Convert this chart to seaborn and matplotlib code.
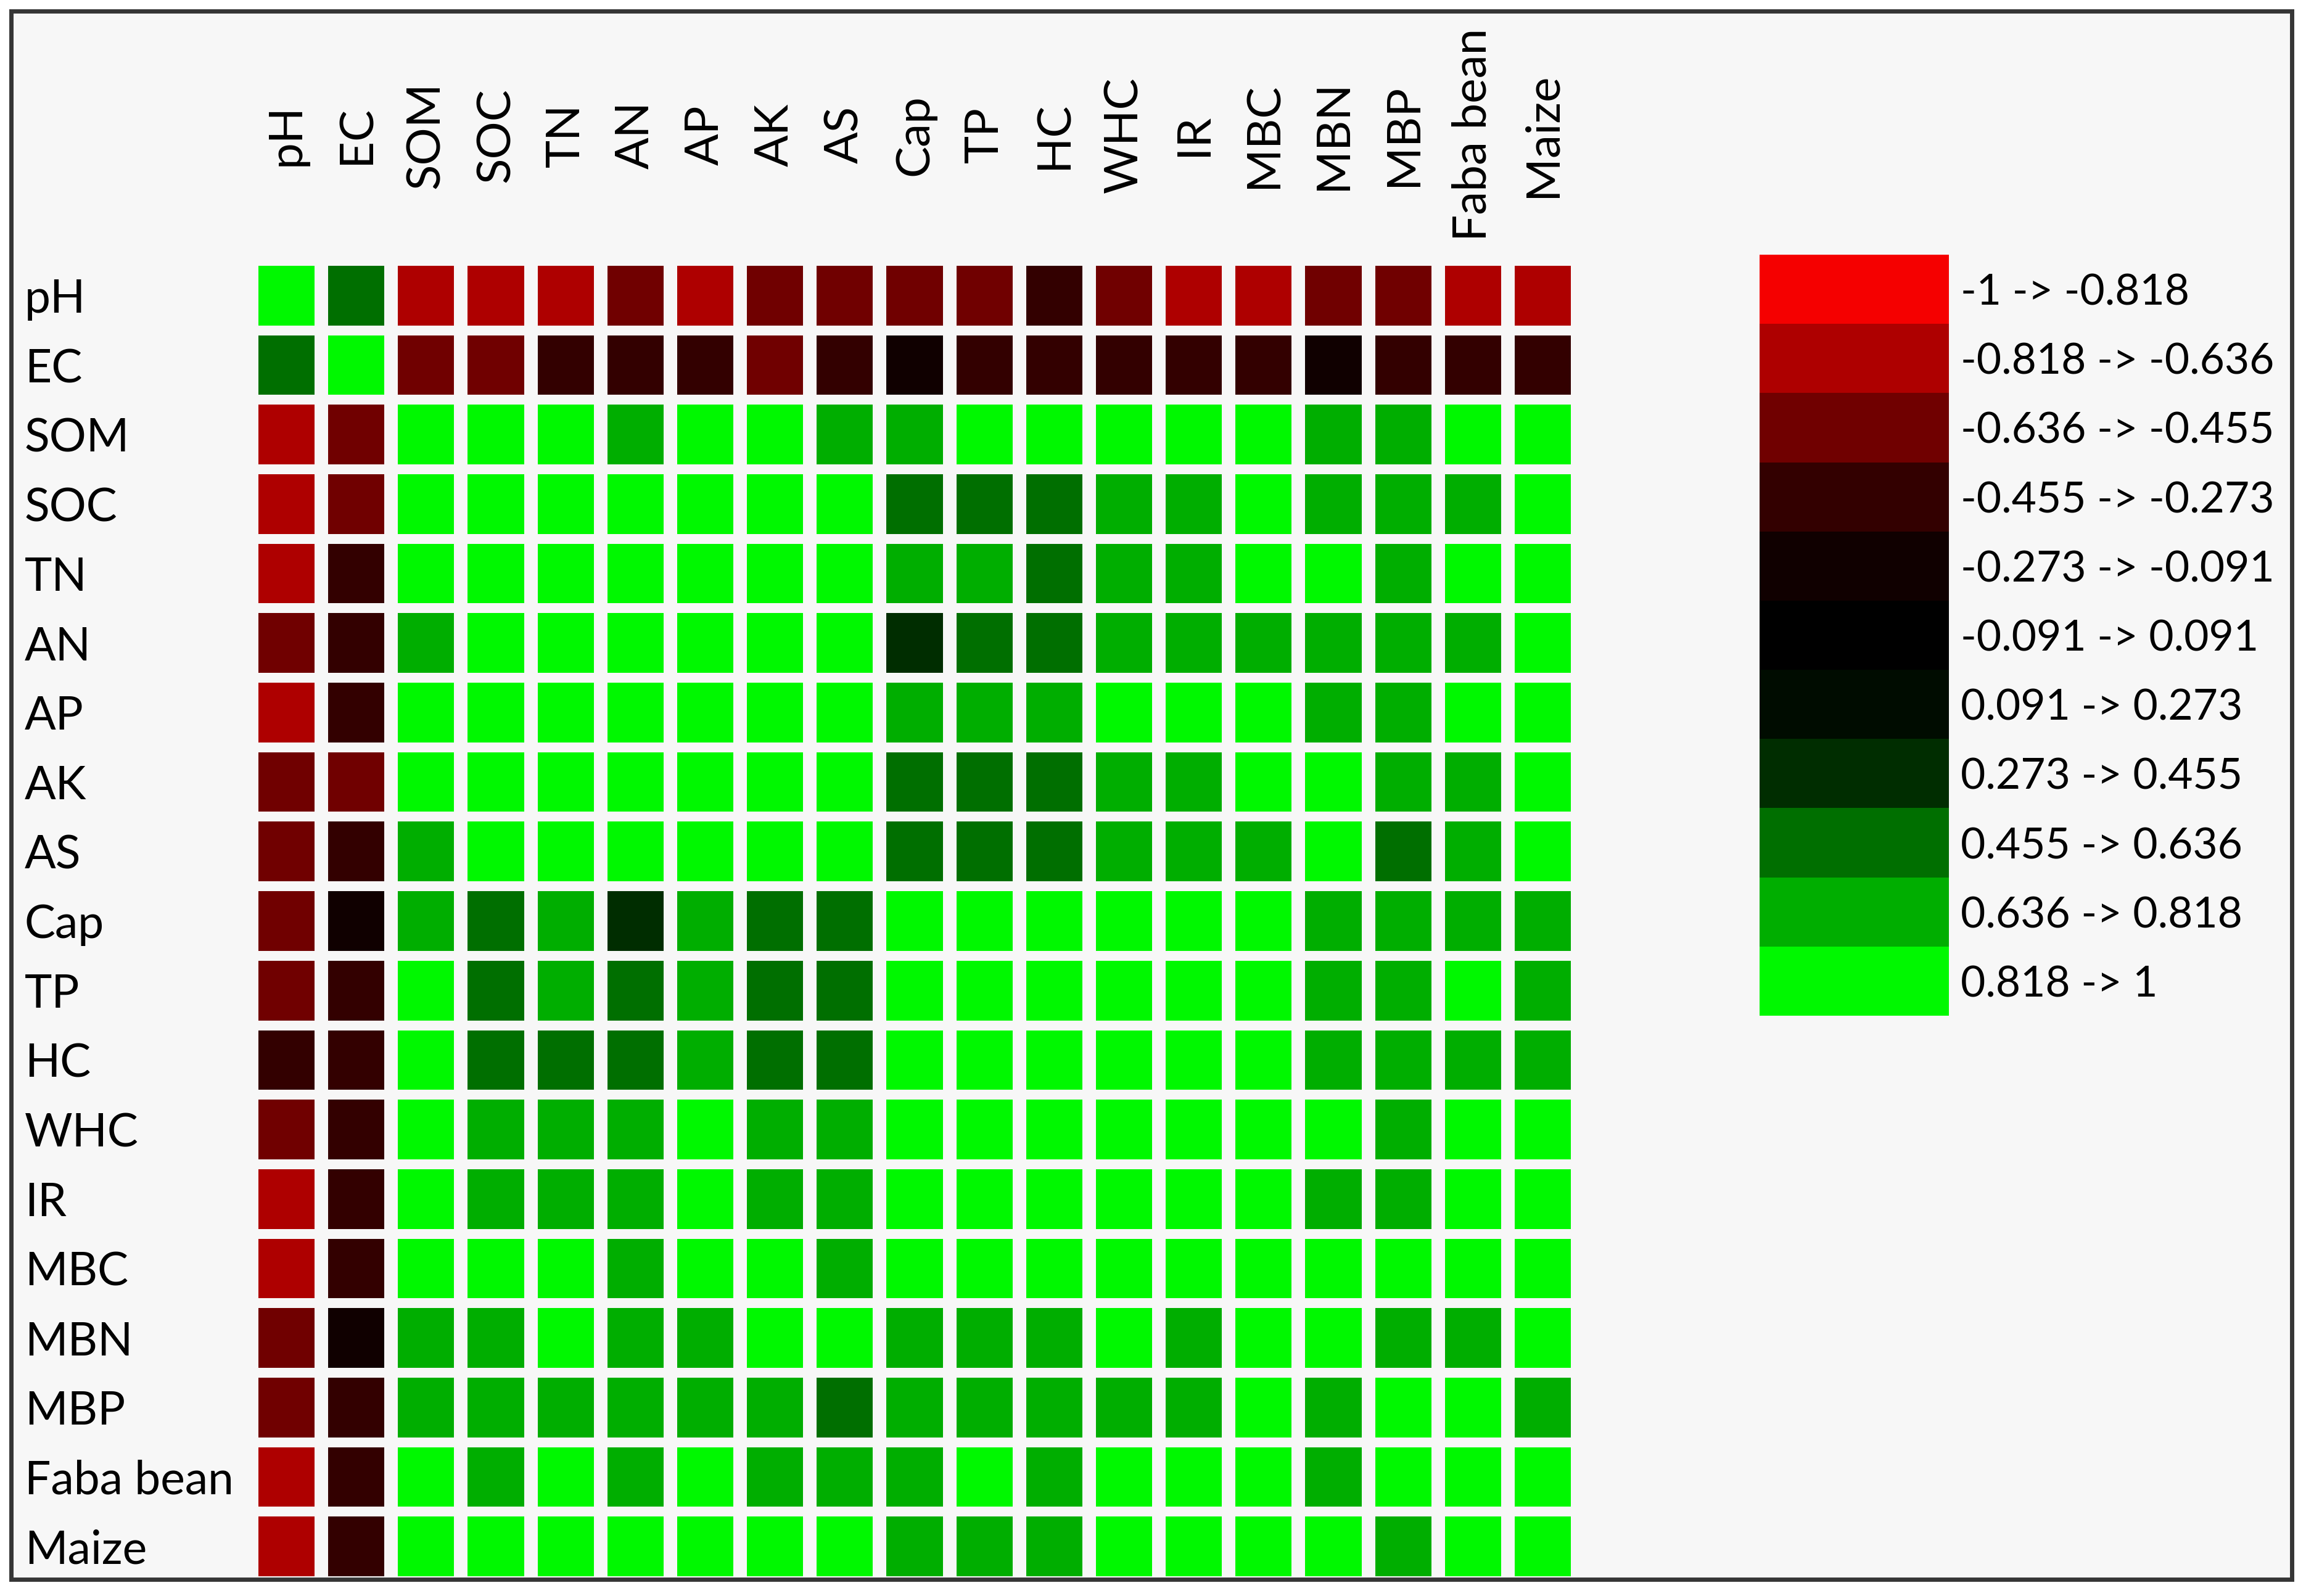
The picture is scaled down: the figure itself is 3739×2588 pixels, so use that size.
import numpy as np
import pandas as pd
import seaborn as sns
import matplotlib.pyplot as plt
from matplotlib.colors import ListedColormap
from matplotlib.patches import Rectangle

# variables (rows and columns of the correlation matrix)
variables = ['pH', 'EC', 'SOM', 'SOC', 'TN', 'AN', 'AP', 'AK', 'AS', 'Cap', 'TP', 'HC',
             'WHC', 'IR', 'MBC', 'MBN', 'MBP', 'Faba bean', 'Maize']

# correlation coefficients (class midpoints)
corr = [
    [1.00, 0.55, -0.73, -0.73, -0.73, -0.55, -0.73, -0.55, -0.55, -0.55, -0.55, -0.36, -0.55, -0.73, -0.73, -0.55, -0.55, -0.73, -0.73],
    [0.55, 1.00, -0.55, -0.55, -0.36, -0.36, -0.36, -0.55, -0.36, -0.18, -0.36, -0.36, -0.36, -0.36, -0.36, -0.18, -0.36, -0.36, -0.36],
    [-0.73, -0.55, 1.00, 0.91, 0.91, 0.73, 0.91, 0.91, 0.73, 0.73, 0.91, 0.91, 0.91, 0.91, 0.91, 0.73, 0.73, 0.91, 0.91],
    [-0.73, -0.55, 0.91, 1.00, 0.91, 0.91, 0.91, 0.91, 0.91, 0.55, 0.55, 0.55, 0.73, 0.73, 0.91, 0.73, 0.73, 0.73, 0.91],
    [-0.73, -0.36, 0.91, 0.91, 1.00, 0.91, 0.91, 0.91, 0.91, 0.73, 0.73, 0.55, 0.73, 0.73, 0.91, 0.91, 0.73, 0.91, 0.91],
    [-0.55, -0.36, 0.73, 0.91, 0.91, 1.00, 0.91, 0.91, 0.91, 0.36, 0.55, 0.55, 0.73, 0.73, 0.73, 0.73, 0.73, 0.73, 0.91],
    [-0.73, -0.36, 0.91, 0.91, 0.91, 0.91, 1.00, 0.91, 0.91, 0.73, 0.73, 0.73, 0.91, 0.91, 0.91, 0.73, 0.73, 0.91, 0.91],
    [-0.55, -0.55, 0.91, 0.91, 0.91, 0.91, 0.91, 1.00, 0.91, 0.55, 0.55, 0.55, 0.73, 0.73, 0.91, 0.91, 0.73, 0.73, 0.91],
    [-0.55, -0.36, 0.73, 0.91, 0.91, 0.91, 0.91, 0.91, 1.00, 0.55, 0.55, 0.55, 0.73, 0.73, 0.73, 0.91, 0.55, 0.73, 0.91],
    [-0.55, -0.18, 0.73, 0.55, 0.73, 0.36, 0.73, 0.55, 0.55, 1.00, 0.91, 0.91, 0.91, 0.91, 0.91, 0.73, 0.73, 0.73, 0.73],
    [-0.55, -0.36, 0.91, 0.55, 0.73, 0.55, 0.73, 0.55, 0.55, 0.91, 1.00, 0.91, 0.91, 0.91, 0.91, 0.73, 0.73, 0.91, 0.73],
    [-0.36, -0.36, 0.91, 0.55, 0.55, 0.55, 0.73, 0.55, 0.55, 0.91, 0.91, 1.00, 0.91, 0.91, 0.91, 0.73, 0.73, 0.73, 0.73],
    [-0.55, -0.36, 0.91, 0.73, 0.73, 0.73, 0.91, 0.73, 0.73, 0.91, 0.91, 0.91, 1.00, 0.91, 0.91, 0.91, 0.73, 0.91, 0.91],
    [-0.73, -0.36, 0.91, 0.73, 0.73, 0.73, 0.91, 0.73, 0.73, 0.91, 0.91, 0.91, 0.91, 1.00, 0.91, 0.73, 0.73, 0.91, 0.91],
    [-0.73, -0.36, 0.91, 0.91, 0.91, 0.73, 0.91, 0.91, 0.73, 0.91, 0.91, 0.91, 0.91, 0.91, 1.00, 0.91, 0.91, 0.91, 0.91],
    [-0.55, -0.18, 0.73, 0.73, 0.91, 0.73, 0.73, 0.91, 0.91, 0.73, 0.73, 0.73, 0.91, 0.73, 0.91, 1.00, 0.73, 0.73, 0.91],
    [-0.55, -0.36, 0.73, 0.73, 0.73, 0.73, 0.73, 0.73, 0.55, 0.73, 0.73, 0.73, 0.73, 0.73, 0.91, 0.73, 1.00, 0.91, 0.73],
    [-0.73, -0.36, 0.91, 0.73, 0.91, 0.73, 0.91, 0.73, 0.73, 0.73, 0.91, 0.73, 0.91, 0.91, 0.91, 0.73, 0.91, 1.00, 0.91],
    [-0.73, -0.36, 0.91, 0.91, 0.91, 0.91, 0.91, 0.91, 0.91, 0.73, 0.73, 0.73, 0.91, 0.91, 0.91, 0.91, 0.73, 0.91, 1.00],
]

# class edges of the legend and one colour per class
edges = [-1, -0.818, -0.636, -0.455, -0.273, -0.091, 0.091, 0.273, 0.455, 0.636, 0.818, 1]
class_colors = ['#F50000', '#AE0000', '#700000', '#330000', '#100000', '#000000',
                '#000C00', '#002D00', '#006F00', '#00AE00', '#00F800']

bg = '#F7F7F7'
df = pd.DataFrame(corr, index=variables, columns=variables)
cmap = ListedColormap(class_colors)

sns.set_theme(style='white')
plt.rcParams['font.family'] = ['Lato', 'DejaVu Sans']

W, H = 3739, 2588
fig = plt.figure(figsize=(W / 100, H / 100), dpi=100)
fig.patch.set_facecolor('white')

# grey panel with dark frame
x0, x1, y0, y1 = 17.5, 3716, 17.5, 2561
fig.patches.append(Rectangle((x0 / W, 1 - y1 / H), (x1 - x0) / W, (y1 - y0) / H,
                             transform=fig.transFigure, facecolor=bg, edgecolor='none', zorder=-1))
fig.patches.append(Rectangle((x0 / W, 1 - y1 / H), (x1 - x0) / W, (y1 - y0) / H,
                             transform=fig.transFigure, facecolor='none', edgecolor='#363636',
                             lw=5, zorder=10))

# main heatmap
ax = fig.add_axes([408 / W, 1 - 2564 / H, 2150 / W, 2141 / H])
ax.set_facecolor(bg)
sns.heatmap(df, cmap=cmap, vmin=-1, vmax=1, cbar=False, ax=ax,
            xticklabels=variables, yticklabels=variables)
n = len(variables)
for i in range(n + 1):
    ax.axvline(i, color=bg, lw=22 * 0.72)
    ax.axhline(i, color=bg, lw=16 * 0.72)

ax.xaxis.tick_top()
ax.set_xticks(np.arange(n) + 0.5, variables, rotation=90, va='center', ha='center', fontsize=55)
ax.set_yticks(np.arange(n) + 0.5, variables, rotation=0, ha='left', va='center_baseline', fontsize=54)
ax.tick_params(axis='x', length=0, pad=147, colors='black')
ax.tick_params(axis='y', length=0, pad=265, colors='black')

# legend as a stacked one-column heatmap
mids = [(edges[i] + edges[i + 1]) / 2 for i in range(len(edges) - 1)]
leg_labels = [f'{edges[i]:g} -> {edges[i + 1]:g}' for i in range(len(edges) - 1)]
lax = fig.add_axes([2853 / W, 1 - 1647 / H, 307 / W, 1234 / H])
sns.heatmap(pd.DataFrame({'v': mids}), cmap=cmap, vmin=-1, vmax=1, cbar=False, ax=lax,
            xticklabels=False, yticklabels=leg_labels)
lax.yaxis.tick_right()
lax.set_yticks(np.arange(len(mids)) + 0.5, leg_labels, rotation=0, ha='left', va='center_baseline', fontsize=50)
lax.tick_params(axis='y', length=0, pad=14, colors='black')

fig.savefig('out.png', dpi=100)
